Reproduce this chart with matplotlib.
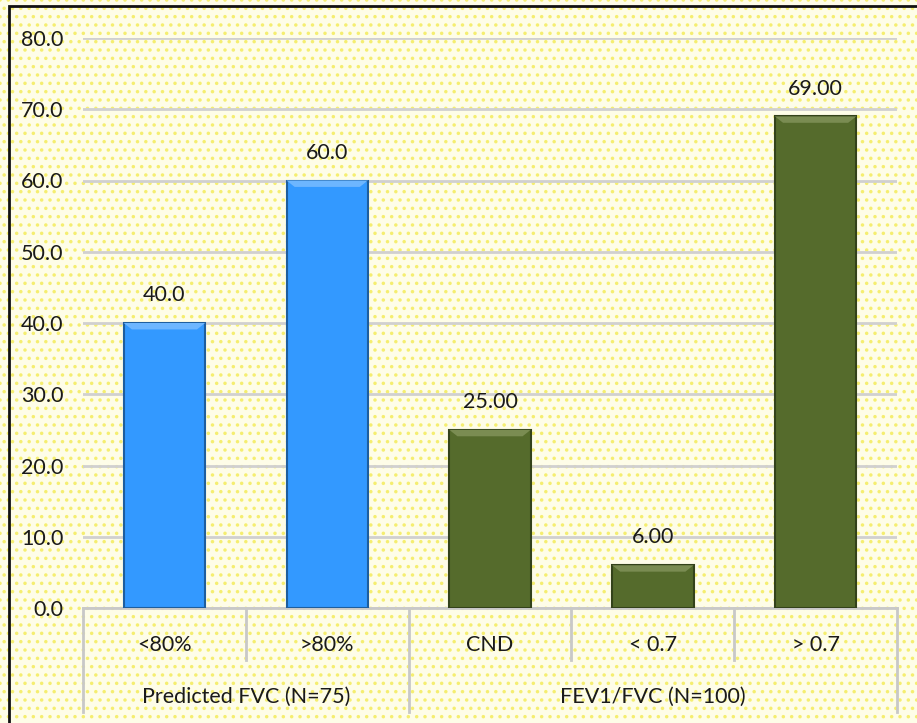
import matplotlib
matplotlib.use("Agg")
import matplotlib.pyplot as plt
from matplotlib.patches import Rectangle, Polygon
from matplotlib.transforms import blended_transform_factory
from matplotlib import font_manager

categories = ["<80%", ">80%", "CND", "< 0.7", "> 0.7"]
values = [40.0, 60.0, 25.0, 6.0, 69.0]
value_labels = ["40.0", "60.0", "25.00", "6.00", "69.00"]
groups = ["Predicted FVC (N=75)", "FEV1/FVC (N=100)"]
group_sizes = [2, 3]
yticks = [0, 10, 20, 30, 40, 50, 60, 70, 80]
ytick_labels = ["0.0", "10.0", "20.0", "30.0", "40.0", "50.0", "60.0", "70.0", "80.0"]

plt.rcParams["font.family"] = ["Lato", "DejaVu Sans"]
plt.rcParams["hatch.linewidth"] = 1.3
FS = 15.5
TC = "#1A1A1A"

blue, blue_edge, blue_top = "#3399FF", "#1E5E9E", "#6DB6FF"
green, green_edge, green_top = "#556B2C", "#33421A", "#7A8C52"
bar_colors = [blue, blue, green, green, green]
edge_colors = [blue_edge, blue_edge, green_edge, green_edge, green_edge]
top_colors = [blue_top, blue_top, green_top, green_top, green_top]

W, H = 917, 723
fig = plt.figure(figsize=(W / 100, H / 100), dpi=100)
fig.patch.set_facecolor("#FEFDE8")
bg = Rectangle((0, 0), 1, 1, transform=fig.transFigure, facecolor="#FEFDE8",
               edgecolor="#F5EE70", hatch="..", linewidth=0, zorder=-10)
fig.patches.append(bg)
frame = Rectangle((9 / W, -0.01), 1.2, 1 - 6 / H + 0.01, transform=fig.transFigure,
                  facecolor="none", edgecolor="#111111", linewidth=2, zorder=-5)
fig.patches.append(frame)

ax = fig.add_axes([83 / W, 1 - 608 / H, (897 - 83) / W, (608 - 38) / H])
ax.set_facecolor("none")
x = list(range(len(categories)))
bw = 0.5
ax.bar(x, values, width=bw, color=bar_colors, edgecolor=edge_colors, linewidth=1.5, zorder=3)
# bevel at the top of each bar
bev_x, bev_y = 0.05, 0.9
for xi, v, tc in zip(x, values, top_colors):
    l, r = xi - bw / 2, xi + bw / 2
    poly = Polygon([(l, v), (r, v), (r - bev_x, v - bev_y), (l + bev_x, v - bev_y)],
                   closed=True, facecolor=tc, edgecolor="none", zorder=4)
    ax.add_patch(poly)
for xi, v, lab in zip(x, values, value_labels):
    ax.annotate(lab, (xi, v), xytext=(0, 20), textcoords="offset points",
                ha="center", va="center", fontsize=FS, color=TC)

ax.set_xlim(-0.5, len(categories) - 0.5)
ax.set_ylim(0, 80)
ax.set_yticks(yticks)
ax.set_yticklabels(ytick_labels, fontsize=FS, color=TC)
ax.tick_params(axis="y", length=0, pad=14)
ax.set_xticks([])
ax.yaxis.grid(True, color="#D0D0D0", linewidth=2, zorder=0)
for s in ["top", "right", "left"]:
    ax.spines[s].set_visible(False)
ax.spines["bottom"].set_color("#C8C8C8")
ax.spines["bottom"].set_linewidth(2)

tr = blended_transform_factory(ax.transData, ax.transAxes)
for xi, c in zip(x, categories):
    ax.text(xi, -0.065, c, transform=tr, ha="center", va="center", fontsize=FS, color=TC)
start = 0
bounds = [-0.5]
for gs in group_sizes:
    start += gs
    bounds.append(start - 0.5)
for b in range(len(categories) + 1):
    pos = b - 0.5
    y1 = -0.1825 if pos in bounds else -0.0912
    ax.plot([pos, pos], [0, y1], transform=tr, color="#C8C8C8", linewidth=2, clip_on=False)
start = 0
for g, gs in zip(groups, group_sizes):
    center = start + (gs - 1) / 2
    ax.text(center, -0.156, g, transform=tr, ha="center", va="center", fontsize=FS, color=TC)
    start += gs

fig.savefig("out.png", dpi=100, facecolor=fig.get_facecolor())
